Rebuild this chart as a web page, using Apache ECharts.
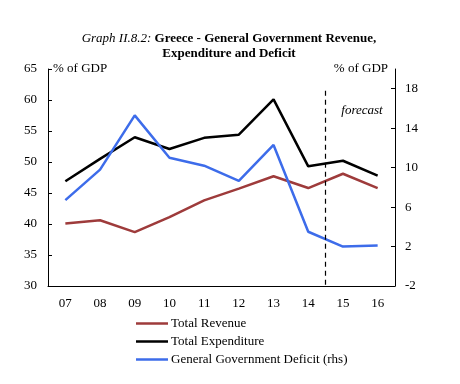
<!DOCTYPE html>
<html>
<head>
<meta charset="utf-8">
<script src="https://cdn.jsdelivr.net/npm/echarts@6/dist/echarts.min.js"></script>
<style>html,body{margin:0;padding:0;background:#fff}#c{width:460px;height:384px}</style>
</head>
<body>
<div id="c"></div>
<script>
const categories = ['07','08','09','10','11','12','13','14','15','16'];
const revenue = [40.1, 40.6, 38.7, 41.1, 43.8, 45.7, 47.7, 45.8, 48.1, 45.8];
const expenditure = [46.9, 50.5, 54.0, 52.1, 53.9, 54.4, 60.1, 49.3, 50.2, 47.8];
const deficit = [6.7, 9.8, 15.3, 11.0, 10.2, 8.65, 12.3, 3.5, 2.0, 2.1];
const leftTicks = [30, 35, 40, 45, 50, 55, 60, 65];
const rightTicks = [-2, 2, 6, 10, 14, 18];
const forecastBoundary = 7.5; // between '14' and '15' (category index scale)

const FONT = '"Liberation Serif", "Times New Roman", serif';
const chart = echarts.init(document.getElementById('c'));
chart.setOption({
  animation: false,
  backgroundColor: '#fff',
  textStyle: { fontFamily: FONT },
  title: {
    left: 224, top: 26, textAlign: 'center',
    text: '{i|Graph II.8.2:} {b|Greece - General Government Revenue,}\n{b|Expenditure and Deficit}',
    textStyle: {
      fontFamily: FONT, fontSize: 13, color: '#000', lineHeight: 15,
      rich: {
        i: { fontFamily: FONT, fontStyle: 'italic', fontWeight: 'normal', fontSize: 13, color: '#000', lineHeight: 15 },
        b: { fontFamily: FONT, fontWeight: 'bold', fontSize: 13, color: '#000', lineHeight: 15 }
      }
    }
  },
  grid: { left: 48, right: 65, top: 69, bottom: 98, containLabel: false },
  legend: {
    orient: 'vertical', left: 131, top: 312,
    icon: 'rect',
    itemWidth: 32, itemHeight: 2.5, itemGap: 5,
    textStyle: { fontFamily: FONT, fontSize: 13, color: '#000', lineHeight: 13, padding: [0,0,0,-2] },
    data: ['Total Revenue', 'Total Expenditure', 'General Government Deficit (rhs)']
  },
  xAxis: [
    {
      type: 'category', data: categories,
      axisLine: { onZero: false, lineStyle: { color: '#000', width: 1 } },
      axisTick: { inside: true, length: 5, lineStyle: { color: '#000' } },
      axisLabel: { fontFamily: FONT, fontSize: 13, color: '#000', margin: 11 },
      splitLine: { show: false }
    },
    {
      type: 'value', min: -0.5, max: categories.length - 0.5, show: false,
      splitLine: { show: false }
    }
  ],
  yAxis: [
    {
      type: 'value', min: 30, max: 65, interval: 5,
      name: '% of GDP', nameLocation: 'end', nameGap: 0,
      nameTextStyle: { fontFamily: FONT, fontSize: 13, color: '#000', align: 'left', verticalAlign: 'middle', padding: [0,0,0,5] },
      axisLine: { show: true, onZero: false, lineStyle: { color: '#000', width: 1 } },
      axisTick: { show: true, inside: true, length: 4, lineStyle: { color: '#000' } },
      axisLabel: { fontFamily: FONT, fontSize: 13, color: '#000', margin: 11, customValues: leftTicks },
      splitLine: { show: false }
    },
    {
      type: 'value', min: -2, max: 20, interval: 4,
      name: '% of GDP', nameLocation: 'end', nameGap: 0,
      nameTextStyle: { fontFamily: FONT, fontSize: 13, color: '#000', align: 'right', verticalAlign: 'middle', padding: [0,7,0,0] },
      axisLine: { show: true, onZero: false, lineStyle: { color: '#000', width: 1 } },
      axisTick: { show: true, inside: true, length: 4, lineStyle: { color: '#000' }, customValues: rightTicks },
      axisLabel: { fontFamily: FONT, fontSize: 13, color: '#000', margin: 10, customValues: rightTicks },
      splitLine: { show: false }
    }
  ],
  series: [
    {
      name: 'Total Revenue', type: 'line', data: revenue, yAxisIndex: 0,
      symbol: 'none', color: '#9e3b3b', lineStyle: { width: 2.5, color: '#9e3b3b' }
    },
    {
      name: 'Total Expenditure', type: 'line', data: expenditure, yAxisIndex: 0,
      symbol: 'none', color: '#000', lineStyle: { width: 2.5, color: '#000' }
    },
    {
      name: 'General Government Deficit (rhs)', type: 'line', data: deficit, yAxisIndex: 1,
      symbol: 'none', color: '#3d6cea', lineStyle: { width: 2.5, color: '#3d6cea' }
    },
    {
      name: 'forecast-marker', type: 'line', data: [], xAxisIndex: 1, yAxisIndex: 1,
      symbol: 'none', silent: true,
      markLine: {
        silent: true, symbol: 'none', animation: false,
        lineStyle: { type: [5, 4], color: '#000', width: 1.2 },
        label: { show: false },
        data: [[{ coord: [forecastBoundary, 17.8] }, { coord: [forecastBoundary, -2] }]]
      },
      markPoint: {
        silent: true, symbol: 'circle', symbolSize: 0, animation: false,
        label: { show: true, position: 'inside', formatter: 'forecast', fontFamily: FONT, fontStyle: 'italic', fontSize: 13, color: '#000' },
        data: [{ coord: [8.55, 15.8] }]
      }
    }
  ]
});
</script>
</body>
</html>
